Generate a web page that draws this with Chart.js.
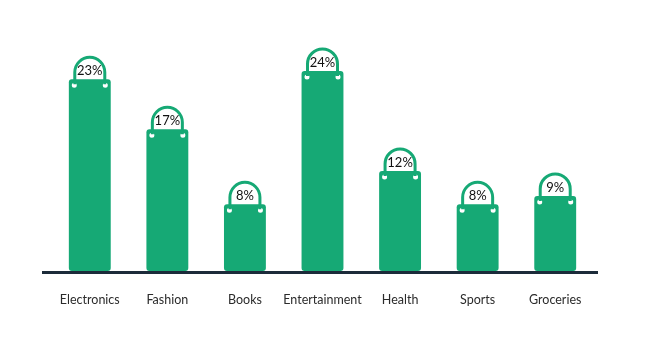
<!DOCTYPE html>
<html>
<head>
<meta charset="utf-8">
<script src="https://cdn.jsdelivr.net/npm/chart.js@4"></script>
<style>
  html, body { margin: 0; padding: 0; background: #fff; }
  #w { width: 650px; height: 338px; }
</style>
</head>
<body>
<div id="w"><canvas id="myChart" width="650" height="338"></canvas></div>
<script>
var categorias = ['Electronics', 'Fashion', 'Books', 'Entertainment', 'Health', 'Sports', 'Groceries']
var valores = [23, 17, 8, 24, 12, 8, 9]
var etiquetas = ['23%', '17%', '8%', '24%', '12%', '8%', '9%']

var verde = 'rgb(22, 169, 117)'
var azul = '#1c2b3a'

// dibuja las asas de la bolsa y la linea base
var bolsas = {
    id: 'bolsas',
    beforeDatasetsDraw: function (chart) {
        var ctx = chart.ctx
        var y0 = chart.scales.y.getPixelForValue(0)
        ctx.save()
        ctx.strokeStyle = azul
        ctx.lineWidth = 3
        ctx.beginPath()
        ctx.moveTo(chart.chartArea.left - 9, y0 + 1.5)
        ctx.lineTo(chart.chartArea.right + 4, y0 + 1.5)
        ctx.stroke()
        ctx.restore()
    },
    afterDatasetsDraw: function (chart) {
        var ctx = chart.ctx
        var meta = chart.getDatasetMeta(0)
        meta.data.forEach(function (bar, i) {
            var cx = bar.x
            var top = bar.y
            var r = 15
            ctx.save()
            // agujeros
            ctx.fillStyle = '#fff'
            ctx.beginPath()
            ctx.arc(cx - r - 0.5, top + 6, 2.5, 0, Math.PI * 2)
            ctx.arc(cx + r + 0.5, top + 6, 2.5, 0, Math.PI * 2)
            ctx.fill()
            // asa
            ctx.strokeStyle = verde
            ctx.lineWidth = 3
            ctx.beginPath()
            ctx.moveTo(cx - r, top + 5)
            ctx.lineTo(cx - r, top - 7)
            ctx.arc(cx, top - 7, r, Math.PI, 0)
            ctx.lineTo(cx + r, top + 5)
            ctx.stroke()
            // texto
            ctx.fillStyle = '#111'
            ctx.font = '13px Lato'
            ctx.textAlign = 'center'
            ctx.textBaseline = 'alphabetic'
            ctx.fillText(etiquetas[i], cx, top - 4)
            ctx.restore()
        })
    }
}

var ctx = document.getElementById('myChart').getContext('2d')
var myChart = new Chart(ctx, {
    type: 'bar',
    data: {
        labels: categorias,
        datasets: [{
            data: valores,
            backgroundColor: verde,
            borderRadius: 3,
            borderSkipped: false,
            barPercentage: 0.54,
            categoryPercentage: 1
        }]
    },
    options: {
        responsive: false,
        animation: false,
        layout: { padding: { top: 21, left: 51, right: 56, bottom: 10 } },
        plugins: { legend: { display: false }, tooltip: { enabled: false } },
        scales: {
            x: {
                grid: { display: false, drawTicks: false },
                border: { display: false },
                ticks: { color: '#2b2b2b', font: { family: 'Lato', size: 12.5 }, padding: 21, maxRotation: 0, minRotation: 0, autoSkip: false }
            },
            y: {
                display: false,
                min: 0,
                max: 30
            }
        }
    },
    plugins: [bolsas]
})
</script>
</body>
</html>
